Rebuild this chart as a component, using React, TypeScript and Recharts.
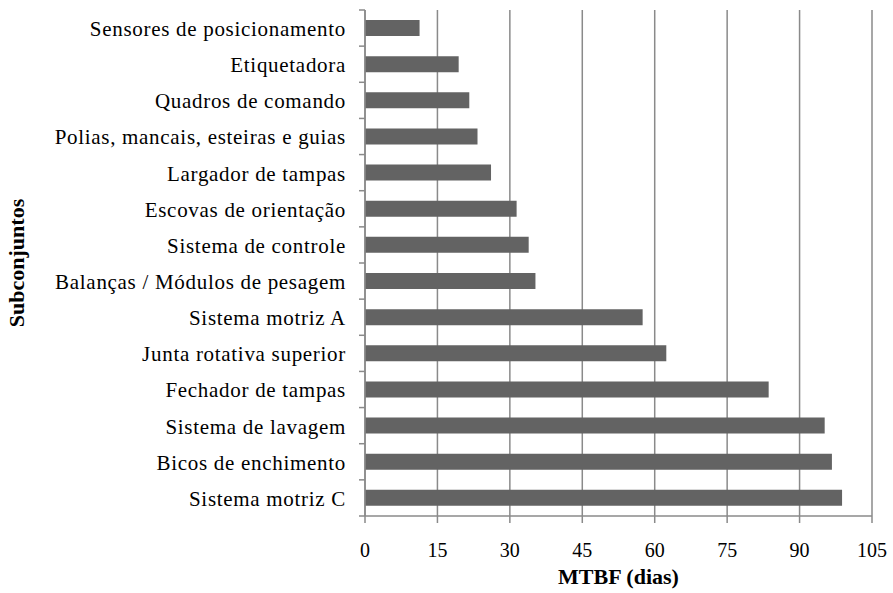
import { BarChart, Bar, XAxis, YAxis, CartesianGrid, Label } from 'recharts'

const SUBCONJUNTOS = [
	'Sensores de posicionamento',
	'Etiquetadora',
	'Quadros de comando',
	'Polias, mancais, esteiras e guias',
	'Largador de tampas',
	'Escovas de orientação',
	'Sistema de controle',
	'Balanças / Módulos de pesagem',
	'Sistema motriz A',
	'Junta rotativa superior',
	'Fechador de tampas',
	'Sistema de lavagem',
	'Bicos de enchimento',
	'Sistema motriz C',
]

const MTBF = [11.3, 19.4, 21.6, 23.3, 26.1, 31.4, 33.9, 35.3, 57.5, 62.4, 83.6, 95.2, 96.7, 98.8]

const X_TICKS = [0, 15, 30, 45, 60, 75, 90, 105]

const data = SUBCONJUNTOS.map((name, i) => ({ name, value: MTBF[i] }))

const W = 893
const H = 593
const TOP = 10
const XAXIS_H = 77
const YAXIS_W = 365
const BAND = (H - TOP - XAXIS_H) / SUBCONJUNTOS.length
const FONT = '"Liberation Serif", "Times New Roman", serif'
const GRAY = '#8a8a8a'

const CategoryTick = (props: any) => {
	const { y, payload, index } = props
	const last = index === SUBCONJUNTOS.length - 1
	return (
		<g>
			<line x1={YAXIS_W - 6} x2={YAXIS_W} y1={y - BAND / 2} y2={y - BAND / 2} stroke={GRAY} strokeWidth={1.5} />
			{last && (
				<line x1={YAXIS_W - 6} x2={YAXIS_W} y1={y + BAND / 2} y2={y + BAND / 2} stroke={GRAY} strokeWidth={1.5} />
			)}
			<text
				x={YAXIS_W - 19}
				y={y}
				dy="0.38em"
				textAnchor="end"
				fontFamily={FONT}
				fontSize={21}
				letterSpacing={0.7}
				fill="#000">
				{payload.value}
			</text>
		</g>
	)
}

export default function App() {
	return (
		<div style={{ position: 'absolute', left: 0, top: 0, background: '#fff' }}>
			<BarChart
				width={W}
				height={H}
				data={data}
				layout="vertical"
				margin={{ top: TOP, right: 21, left: 0, bottom: 0 }}
				barSize={16}>
				<CartesianGrid horizontal={false} stroke={GRAY} strokeWidth={1.5} />
				<XAxis
					type="number"
					domain={[0, 105]}
					ticks={X_TICKS}
					interval={0}
					height={XAXIS_H}
					stroke={GRAY}
					strokeWidth={1.5}
					tickSize={7}
					tickMargin={20}
					tick={{ fill: '#000', fontSize: 20, fontFamily: FONT }}>
					<Label
						content={(p: any) => {
							const vb = p.viewBox
							return (
								<text
									x={vb.x + vb.width / 2}
									y={vb.y + vb.height - 9}
									textAnchor="middle"
									fontFamily={FONT}
									fontWeight="bold"
									fontSize={22}
									fill="#000">
									MTBF (dias)
								</text>
							)
						}}
					/>
				</XAxis>
				<YAxis
					type="category"
					dataKey="name"
					width={YAXIS_W}
					stroke={GRAY}
					strokeWidth={1.5}
					tickLine={false}
					interval={0}
					tick={<CategoryTick />}>
					<Label
						content={(p: any) => {
							const vb = p.viewBox
							const cy = vb.y + vb.height / 2
							return (
								<text
									x={16}
									y={cy}
									transform={`rotate(-90 16 ${cy})`}
									textAnchor="middle"
									dominantBaseline="central"
									fontFamily={FONT}
									fontWeight="bold"
									fontSize={22}
									fill="#000">
									Subconjuntos
								</text>
							)
						}}
					/>
				</YAxis>
				<Bar dataKey="value" fill="#636363" isAnimationActive={false} />
			</BarChart>
		</div>
	)
}
